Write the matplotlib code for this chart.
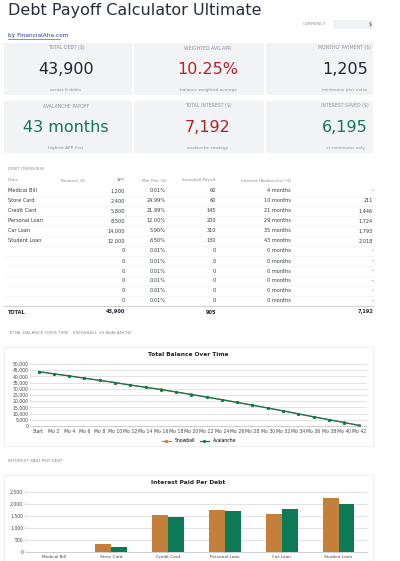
import matplotlib
matplotlib.use("Agg")
import matplotlib.pyplot as plt
from matplotlib.patches import Rectangle
from matplotlib.ticker import FuncFormatter, MultipleLocator
import numpy as np

W, H = 400, 561
debts = ["Medical Bill", "Store Card", "Credit Card", "Personal Loan", "Car Loan", "Student Loan"]
balances = [1200, 2400, 5800, 8500, 14000, 12000, 0, 0, 0, 0, 0, 0]
aprs = ["0.01%", "24.99%", "21.99%", "12.00%", "5.90%", "6.50%"] + ["0.01%"] * 6
min_pmts = [60, 60, 145, 200, 310, 130, 0, 0, 0, 0, 0, 0]
payoff_months = [4, 10, 21, 29, 35, 43, 0, 0, 0, 0, 0, 0]
interest_av = ["-", "211", "1,446", "1,724", "1,793", "2,018"] + ["-"] * 6
months = ["Start"] + [f"Mo {i}" for i in range(2, 43, 2)]
bal_snow = [43900, 42050, 40450, 38600, 36850, 35050, 33100, 31250, 29450, 27450, 25450,
            23350, 21250, 19050, 16850, 14550, 12250, 9850, 7450, 5150, 2850, 450]
bal_aval = [43900, 42000, 40400, 38500, 36800, 35000, 33000, 31200, 29400, 27400, 25400,
            23300, 21200, 19000, 16800, 14500, 12200, 9800, 7400, 5100, 2800, 400]
int_snow = [0, 350, 1550, 1750, 1600, 2270]
int_aval = [0, 211, 1446, 1724, 1793, 2018]
cards = [("TOTAL DEBT ($)", "43,900", "across 6 debts", "#1f2430"),
         ("WEIGHTED AVG APR", "10.25%", "balance-weighted average", "#b3202a"),
         ("MONTHLY PAYMENT ($)", "1,205", "minimums plus extra", "#1f2430"),
         ("AVALANCHE PAYOFF", "43 months", "highest APR first", "#0f7a52"),
         ("TOTAL INTEREST ($)", "7,192", "avalanche strategy", "#b3202a"),
         ("INTEREST SAVED ($)", "6,195", "vs minimums only", "#0f7a52")]

ORANGE = "#c47f3b"
GREEN = "#0b7a55"
GREY = "#8a8f98"
TXT = "#333840"

fig = plt.figure(figsize=(W / 100, H / 100), dpi=100)
fig.patch.set_facecolor("white")

def X(x): return x / W
def Y(y): return 1 - y / H

def t(x, y, s, size=3.6, color=TXT, ha="left", weight="normal", **kw):
    fig.text(X(x), Y(y), s, fontsize=size, color=color, ha=ha, va="center", weight=weight, zorder=5, **kw)

def rect(x0, y0, x1, y1, fc, ec="none", lw=0.5):
    fig.patches.append(Rectangle((X(x0), Y(y1)), X(x1) - X(x0), Y(y0) - Y(y1),
                                 transform=fig.transFigure, facecolor=fc, edgecolor=ec, lw=lw, zorder=-5))

t(8, 10, "Debt Payoff Calculator Ultimate", size=11.5, color="#262c3c")
t(326, 24, "CURRENCY", size=3.2, color=GREY, ha="right")
rect(333, 20, 373, 29, "#f1f2f4")
t(372, 24.5, "$", size=3.3, ha="right")
t(8, 36, "by FinancialAha.com", size=4.2, color="#2a3a9a")
fig.add_artist(plt.Line2D([X(8), X(60)], [Y(38.5), Y(38.5)], transform=fig.transFigure, color="#2a3a9a", lw=0.4))

cx = [66, 208, 345]
for i, (lab, val, sub, col) in enumerate(cards):
    r, c = divmod(i, 3)
    y0 = 43 + r * 58
    x0 = [4, 134, 266][c]; x1 = [132, 264, 373][c]
    rect(x0, y0, x1, y0 + 52, "#f2f3f5")
    t(cx[c], y0 + 5, lab, size=3.3, color=GREY, ha="center")
    t(cx[c], y0 + 27, val, size=11.5, color=col, ha="center")
    t(cx[c], y0 + 47, sub, size=3.1, color=GREY, ha="center")

# Table
t(8, 169, "DEBT OVERVIEW", size=3.2, color=GREY)
hy = 180
for x, s, ha in [(8, "Debt", "left"), (85, "Balance ($)", "right"), (125, "APR", "right"),
                 (166, "Min Pmt ($)", "right"), (216, "Snowball Payoff", "right"),
                 (291, "Interest (Avalanche) ($)", "right")]:
    t(x, hy, s, size=3.1, color=GREY, ha=ha)
names = debts + [""] * 6
for i in range(12):
    y = 191 + i * 10
    t(8, y, names[i], size=3.6)
    t(125, y, f"{balances[i]:,}", size=3.6, ha="right")
    t(166, y, aprs[i], size=3.6, ha="right")
    t(216, y, str(min_pmts[i]), size=3.6, ha="right")
    t(291, y, f"{payoff_months[i]} months", size=3.6, ha="right")
    t(373, y, interest_av[i], size=3.6, ha="right")
    fig.add_artist(plt.Line2D([X(4), X(373)], [Y(y + 5), Y(y + 5)], transform=fig.transFigure, color="#f0f1f3", lw=0.4))
fig.add_artist(plt.Line2D([X(4), X(373)], [Y(306), Y(306)], transform=fig.transFigure, color="#c8cacd", lw=0.6))
t(8, 312, "TOTAL", size=3.6, weight="bold", color="#1f2430")
t(125, 312, f"{sum(balances):,}", size=3.6, weight="bold", ha="right", color="#1f2430")
t(216, 312, f"{sum(min_pmts):,}", size=3.6, weight="bold", ha="right", color="#1f2430")
t(373, 312, "7,192", size=3.6, weight="bold", ha="right", color="#1f2430")

fmt = FuncFormatter(lambda v, p: f"{int(v):,}")

def style(a):
    a.set_facecolor("none")
    a.set_zorder(3)
    a.tick_params(labelsize=3.3, length=1, width=0.3, colors="#444", pad=1)
    a.grid(axis="y", color="#d8d8d8", lw=0.5)
    for s in a.spines.values(): s.set_visible(False)
    a.spines["bottom"].set_visible(True); a.spines["bottom"].set_color("#aaa"); a.spines["bottom"].set_linewidth(0.4)
    a.set_axisbelow(True)

# Line chart
t(8, 333, "TOTAL BALANCE OVER TIME · SNOWBALL VS AVALANCHE", size=3.2, color=GREY)
rect(4, 347, 373, 446, "white", ec="#e6e7ea")
ax = fig.add_axes([X(31), Y(426), X(367) - X(31), Y(364) - Y(426)])
xs = range(len(months))
ax.plot(xs, bal_snow, color=ORANGE, lw=0.9, marker="o", ms=1.3, label="Snowball")
ax.plot(xs, bal_aval, color=GREEN, lw=0.9, marker="o", ms=1.3, label="Avalanche")
ax.set_ylim(0, 50000)
ax.yaxis.set_major_locator(MultipleLocator(5000))
ax.yaxis.set_major_formatter(fmt)
ax.set_xticks(list(xs)); ax.set_xticklabels(months)
ax.set_xlim(-0.5, len(months) - 0.5)
style(ax)
t(188, 355, "Total Balance Over Time", size=4.2, weight="bold", ha="center", color="#222")
ax.legend(loc="upper center", bbox_to_anchor=(0.5, -0.17), ncol=2, fontsize=3.3, frameon=False,
          handlelength=2, columnspacing=1, borderaxespad=0)

# Bar chart
t(8, 461, "INTEREST PAID PER DEBT", size=3.2, color=GREY)
rect(4, 475, 373, 570, "white", ec="#e6e7ea")
ax2 = fig.add_axes([X(26), Y(552), X(367) - X(26), Y(492) - Y(552)])
bx = np.arange(len(debts))
bw = 0.28
ax2.bar(bx - bw / 2, int_snow, bw, color=ORANGE, label="Snowball")
ax2.bar(bx + bw / 2, int_aval, bw, color=GREEN, label="Avalanche")
ax2.set_ylim(0, 2500)
ax2.set_xlim(-0.5, len(debts) - 0.5)
ax2.yaxis.set_major_locator(MultipleLocator(500))
ax2.yaxis.set_major_formatter(fmt)
ax2.set_xticks(bx); ax2.set_xticklabels(debts)
style(ax2)
ax2.tick_params(axis="x", pad=1, labelsize=3.1)
t(188, 483, "Interest Paid Per Debt", size=4.2, weight="bold", ha="center", color="#222")

fig.savefig("out.png", dpi=100, facecolor="white")
